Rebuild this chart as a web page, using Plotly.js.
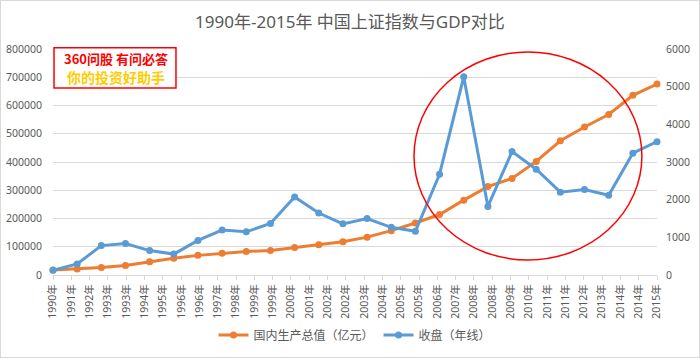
<!DOCTYPE html>
<html>
<head>
<meta charset="utf-8">
<script src="https://cdn.plot.ly/plotly-3.0.1.min.js"></script>
<style>
html,body{margin:0;padding:0;background:#fff;}
#chart{width:698px;height:356px;border:1px solid #d9d9d9;}
</style>
</head>
<body>
<div id="chart"></div>
<script>
var years = [1990,1991,1992,1993,1994,1995,1996,1997,1998,1999,2000,2001,2002,2003,2004,2005,2006,2007,2008,2009,2010,2011,2012,2013,2014,2015];
var gdp = [17500,21000,26500,33500,46500,59500,69500,77000,83000,87000,97000,107000,117500,134000,157000,184000,214000,265000,313000,342000,402000,475000,524000,568000,636000,676000];
var closeIdx = [127.61,292.75,780.39,833.80,647.87,555.29,917.02,1194.10,1146.70,1366.58,2073.48,1645.97,1357.65,1497.04,1266.50,1161.06,2675.47,5261.56,1820.81,3277.14,2808.08,2199.42,2269.13,2115.98,3234.68,3539.18];
var xTickLabels = ['1990年','1991年','1992年','1993年','1993年','1994年','1995年','1996年','1996年','1997年','1998年','1999年','1999年','2000年','2001年','2002年','2002年','2003年','2004年','2005年','2005年','2006年','2007年','2008年','2008年','2009年','2010年','2011年','2011年','2012年','2013年','2014年','2014年','2015年'];
var seriesNames = ['国内生产总值（亿元）','收盘（年线）'];

var first = years[0], last = years[years.length-1];
var tickvals = xTickLabels.map(function(_, i){ return first + i*(last-first)/(xTickLabels.length-1); });

var fontFam = '"Noto Sans", "Noto Sans CJK SC", sans-serif';
var grey = '#595959';

var traces = [
  {x: years, y: gdp, name: seriesNames[0], type: 'scatter', mode: 'lines+markers',
   line: {color: '#ED7D31', width: 3}, marker: {color: '#ED7D31', size: 7}, yaxis: 'y', cliponaxis: false},
  {x: years, y: closeIdx, name: seriesNames[1], type: 'scatter', mode: 'lines+markers',
   line: {color: '#5B9BD5', width: 3}, marker: {color: '#5B9BD5', size: 7}, yaxis: 'y2', cliponaxis: false}
];

var layout = {
  width: 698, height: 356,
  margin: {l: 52, r: 42, t: 48, b: 82, pad: 0, autoexpand: false},
  paper_bgcolor: '#fff', plot_bgcolor: '#fff',
  font: {family: fontFam, color: grey, size: 11},
  title: {text: '1990年-2015年 中国上证指数与GDP对比', font: {family: fontFam, size: 17, color: grey}, x: 0.5, xanchor: 'center', y: 0.94, yanchor: 'middle'},
  showlegend: true,
  legend: {orientation: 'h', x: 0.5, xanchor: 'center', y: -0.265, yanchor: 'middle', font: {size: 12, color: grey}, itemwidth: 30, traceorder: 'normal'},
  xaxis: {range: [first, last], tickmode: 'array', tickvals: tickvals, ticktext: xTickLabels, tickangle: -90, automargin: false,
    showgrid: false, zeroline: false, showline: true, linecolor: '#d9d9d9', linewidth: 1,
    ticks: 'outside', ticklen: 4, tickcolor: '#d9d9d9', tickfont: {size: 10.5, color: grey}},
  yaxis: {range: [0, 800000], dtick: 100000, showgrid: true, gridcolor: '#d9d9d9', zeroline: false, automargin: false,
    showline: false, ticks: '', tickfont: {size: 10.5, color: grey}, ticklabelstandoff: 10, tickformat: 'd'},
  yaxis2: {range: [0, 6000], dtick: 1000, overlaying: 'y', side: 'right', showgrid: false, zeroline: false, automargin: false,
    showline: false, ticks: '', tickfont: {size: 10.5, color: grey}, ticklabelstandoff: 8, tickformat: 'd'},
  shapes: [
    {type: 'circle', xref: 'paper', yref: 'paper', x0: 0.5977, x1: 0.975, y0: 0.0664, y1: 0.9867,
     line: {color: '#FF0000', width: 1.5}, fillcolor: 'rgba(0,0,0,0)', layer: 'above'},
    {type: 'rect', xref: 'paper', yref: 'paper', x0: 0.0017, x1: 0.2036, y0: 0.8274, y1: 1.0058,
     line: {color: '#FF0000', width: 1.5}, fillcolor: '#ffffff', layer: 'above'}
  ],
  annotations: [
    {xref: 'paper', yref: 'paper', x: 0.1035, y: 0.958, xanchor: 'center', yanchor: 'middle', showarrow: false,
     text: '<b>360问股 有问必答</b>', font: {family: '"Noto Sans CJK SC", sans-serif', size: 13, color: '#FF0000'}},
    {xref: 'paper', yref: 'paper', x: 0.1035, y: 0.874, xanchor: 'center', yanchor: 'middle', showarrow: false,
     text: '<b>你的投资好助手</b>', font: {family: '"Noto Sans CJK SC", sans-serif', size: 14, color: '#FFCC00'}}
  ]
};

Plotly.newPlot('chart', traces, layout, {displayModeBar: false, staticPlot: true});
</script>
</body>
</html>
